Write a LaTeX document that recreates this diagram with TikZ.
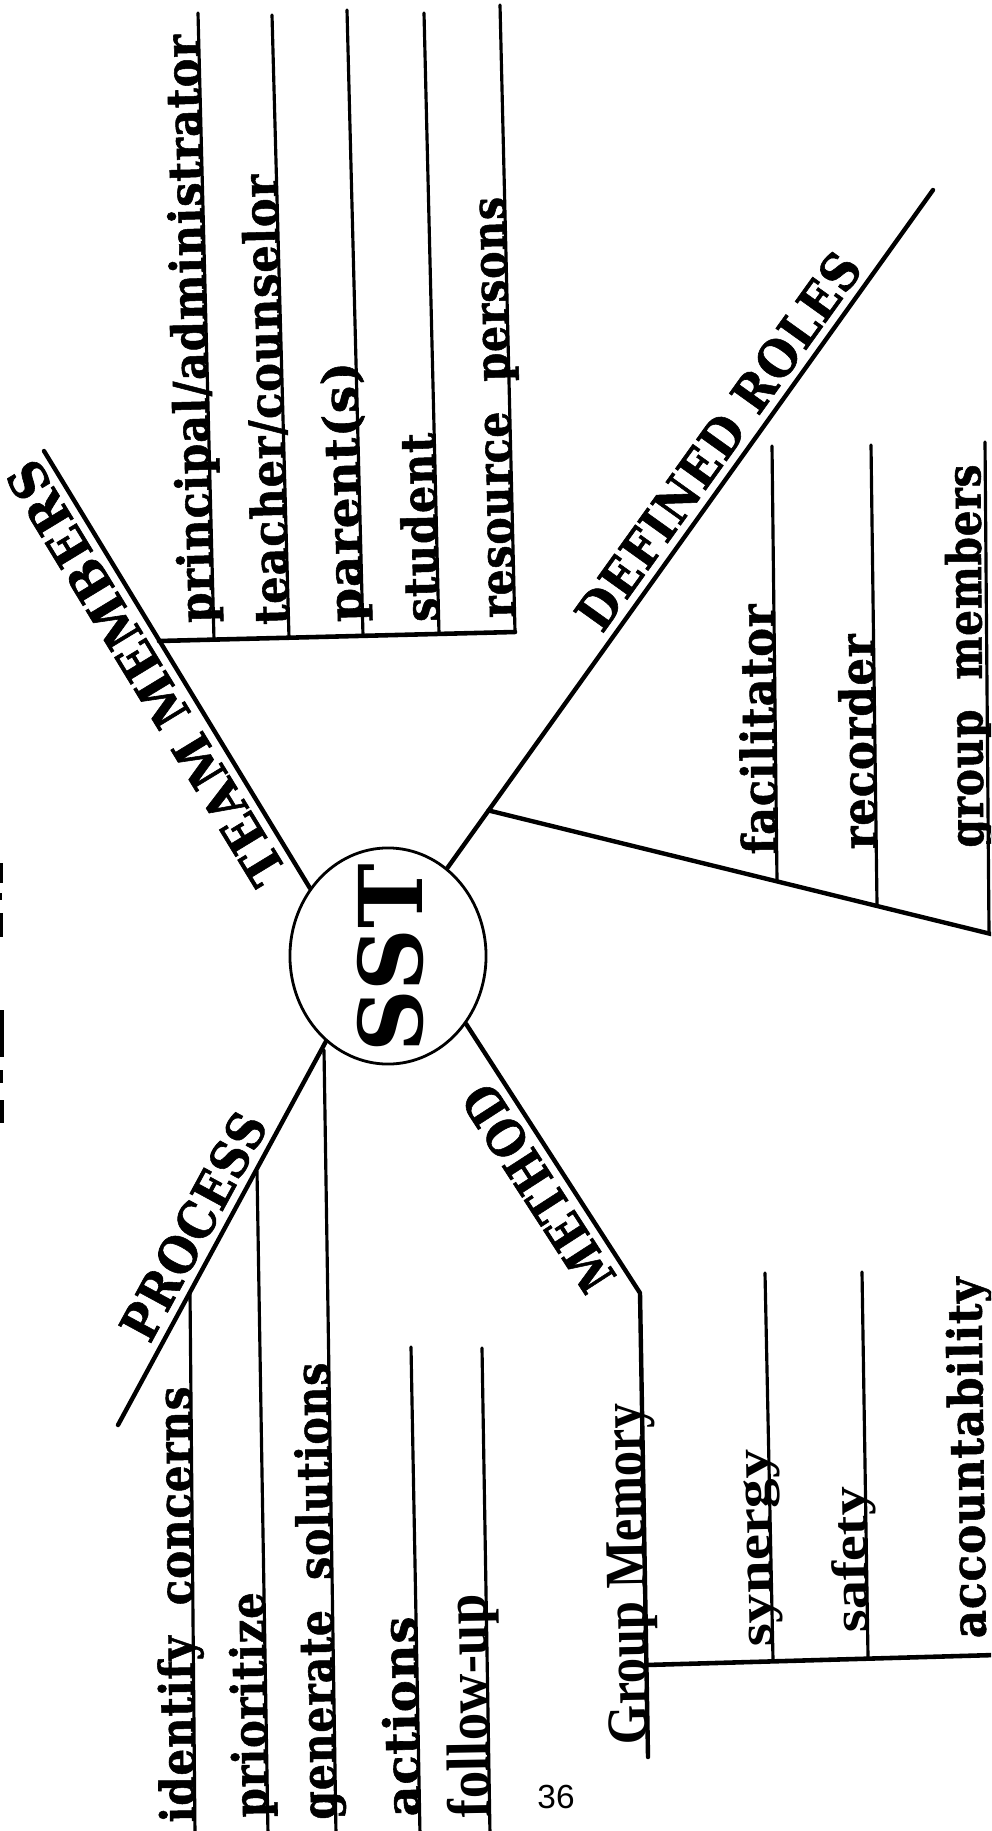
\documentclass[tikz,border=0pt]{standalone}
\usepackage{fontspec}
\usepackage{graphicx}
\usetikzlibrary{shapes.geometric,calc}
\newfontfamily\slabfont{DejaVu Serif}[LetterSpace=2, BoldFeatures={FakeBold=1.2}]
\newfontfamily\hubfont{DejaVu Serif}
\newfontfamily\oldfont{Liberation Serif}
\newfontfamily\foliofont{Liberation Sans}
\newlength\pxu \setlength\pxu{0.01cm}
% stretch or squeeze a label to a given length (in 0.01cm units), keeping its height
\newcommand\fit[2]{\resizebox{#1\pxu}{\height}{#2}}

\tikzset{
  spoke/.style={line width=1.25pt, line cap=round, line join=round},
  rib/.style={line width=0.9pt, line cap=round},
  shelf/.style={line width=1.3pt, line cap=round},
  itemlbl/.style={font=\slabfont\bfseries\fontsize{13.5}{16}\selectfont,
    inner sep=0pt, sloped, allow upside down, anchor=base west},
  altlbl/.style={font=\oldfont\bfseries\fontsize{#1}{#1}\selectfont,
    inner sep=0pt, sloped, allow upside down, anchor=base west},
  headlbl/.style={font=\slabfont\bfseries\fontsize{14.5}{17}\selectfont,
    inner sep=0pt, sloped, allow upside down, anchor=base west},
}

\begin{document}
\begin{tikzpicture}[x=0.01cm, y=-0.01cm]
\useasboundingbox (0,0) rectangle (991,1831);
\clip (0,0) rectangle (991,1831);

% hub
\node[draw, ellipse, line width=0.8pt, minimum width=1.96cm, minimum height=2.16cm, inner sep=0pt] (sst) at (388,956) {};
\node[rotate=90, inner sep=0pt, font=\hubfont\bfseries\fontsize{25}{28}\selectfont] (ssttxt) at (390,958) {\fit{188}{SST}};

% ---------------- TEAM MEMBERS ----------------
\coordinate (tmEnd) at (44,451);
\draw[spoke] (sst.139.3) -- (tmEnd);
\path (sst.139.3) -- (tmEnd) node[headlbl, pos=0.05] (tmlbl) {\raisebox{10\pxu}{\fit{486}{TEAM MEMBERS}}};
\coordinate (tmB0) at (159,641);
\coordinate (tmB5) at (515,632);
\draw[shelf] (tmB0) -- (tmB5);
\coordinate (t1b) at (214,640); \coordinate (t1t) at (198,13);
\coordinate (t2b) at (289,638); \coordinate (t2t) at (272,15);
\coordinate (t3b) at (363,636); \coordinate (t3t) at (347,10);
\coordinate (t4b) at (439,634); \coordinate (t4t) at (424,13);
\coordinate (t5b) at (515,632); \coordinate (t5t) at (500,5);
\foreach \k in {1,...,5} { \draw[rib] (t\k b) -- (t\k t); }
\path (t1b) -- (t1t) node[itemlbl, pos=0.027] (lprin) {\fit{588}{principal/administrator}};
\path (t2b) -- (t2t) node[itemlbl, pos=0.021] (lteach) {\fit{450}{teacher/counselor}};
\path (t3b) -- (t3t) node[itemlbl, pos=0.022] (lpar) {\fit{260}{parent(s)}};
\path (t4b) -- (t4t) node[itemlbl, pos=0.019] (lstud) {\fit{189}{student}};
\path (t5b) -- (t5t) node[itemlbl, pos=0.022] (lres) {\fit{421}{resource\ \ persons}};

% ---------------- DEFINED ROLES ----------------
\coordinate (drEnd) at (933,190);
\draw[spoke] (sst.56.2) -- (drEnd);
\path (sst.56.2) -- (drEnd) node[headlbl, pos=0.335] (drlbl) {\raisebox{10\pxu}{\fit{450}{DEFINED\ ROLES}}};
\coordinate (drJ) at ($(sst.56.2)!0.085!(drEnd)$);
\coordinate (drE) at (995,935);
\draw[spoke] (drJ) -- (drE);
\coordinate (d1b) at (777,881); \coordinate (d1t) at (772,446);
\coordinate (d2b) at (877,905); \coordinate (d2t) at (871,445);
\coordinate (d3b) at (989,933); \coordinate (d3t) at (985,442);
\foreach \k in {1,2,3} { \draw[rib] (d\k b) -- (d\k t); }
\path (d1b) -- (d1t) node[itemlbl, pos=0.06] (lfac) {\fit{250}{facilitator}};
\path (d2b) -- (d2t) node[itemlbl, pos=0.12] (lrec) {\fit{215}{recorder}};
\path (d3b) -- (d3t) node[itemlbl, pos=0.173] (lgrp) {\raisebox{5\pxu}{\fit{383}{group\ \ members}}};

% ---------------- PROCESS ----------------
\coordinate (prEnd) at (118,1425);
\draw[spoke] (sst.234.7) -- (prEnd);
\path (prEnd) -- (sst.234.7) node[headlbl, pos=0.195] (prlbl) {\raisebox{10\pxu}{\fit{250}{PROCESS}}};
\coordinate (p1t) at (190,1293); \coordinate (p1b) at (195,1835);
\coordinate (p2t) at (257,1171); \coordinate (p2b) at (268,1835);
\coordinate (p3t) at (324,1050); \coordinate (p3b) at (336,1835);
\coordinate (p4t) at (411,1347); \coordinate (p4b) at (420,1835);
\coordinate (p5t) at (482,1348); \coordinate (p5b) at (490,1835);
\foreach \k in {1,...,5} { \draw[rib] (p\k b) -- (p\k t); }
\path (p1b) -- (p1t) node[itemlbl, pos=0.022] (lid) {\fit{436}{identify\ \ concerns}};
\path (p2b) -- (p2t) node[itemlbl, pos=0.026] (lpri) {\fit{225}{prioritize}};
\path (p3b) -- (p3t) node[itemlbl, pos=0.019] (lgen) {\fit{457}{generate\ \ solutions}};
\path (p4b) -- (p4t) node[itemlbl, pos=0.037] (lact) {\fit{200}{actions}};
\path (p5b) -- (p5t) node[altlbl=17, pos=0.035] (lfol) {\fit{223}{follow-up}};

% ---------------- METHOD ----------------
\coordinate (mK) at (640,1293);
\coordinate (mBot) at (648,1757);
\draw[spoke] (sst.-41.1) -- (mK) -- (mBot);
\path (mK) -- (sst.-41.1) node[headlbl, pos=0.078] (mlbl) {\raisebox{10\pxu}{\fit{235}{METHOD}}};
\coordinate (mG) at (646,1665);
\coordinate (mE) at (995,1655);
\draw[shelf] (mG) -- (mE);
\coordinate (m1b) at (773,1660); \coordinate (m1t) at (765,1273);
\coordinate (m2b) at (868,1657); \coordinate (m2t) at (862,1272);
\coordinate (m3b) at (986,1655); \coordinate (m3t) at (981,1270);
\foreach \k in {1,2} { \draw[rib] (m\k b) -- (m\k t); }
\path (mBot) -- (mK) node[altlbl=16.5, pos=0.026] (lgm) {\fit{341}{Group Memory}};
\path (m1b) -- (m1t) node[altlbl=14, pos=0.034] (lsyn) {\fit{197}{synergy}};
\path (m2b) -- (m2t) node[altlbl=14, pos=0.062] (lsaf) {\fit{146}{safety}};
\path (m3b) -- (m3t) node[itemlbl, pos=0.042] (lacc) {\fit{361}{accountability}};

% page number
\node[inner sep=0pt, font=\foliofont\fontsize{9.5}{10}\selectfont] (folio) at (556,1797) {36};

% cut-off title at the left edge
\fill (0,863) rectangle (3,883);
\fill (0,893) rectangle (2,900);
\fill (0,913) rectangle (3,937);
\fill (0,1010) rectangle (4,1057);
\fill (0,1070) rectangle (3,1083);
\fill (0,1100) rectangle (4,1123);
\end{tikzpicture}
\end{document}
